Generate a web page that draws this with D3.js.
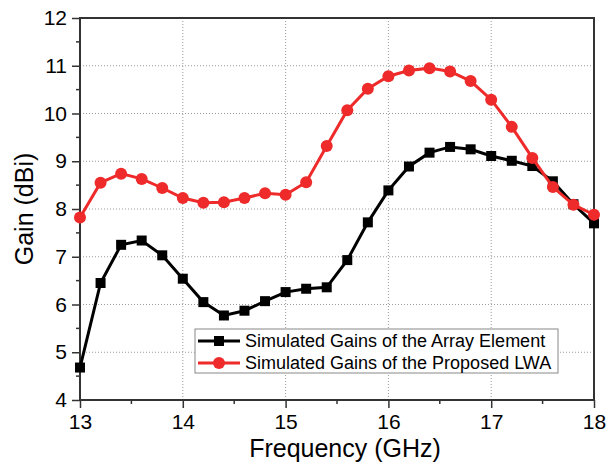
<!DOCTYPE html>
<html>
<head>
<meta charset="utf-8">
<script src="https://cdn.jsdelivr.net/npm/d3@7/dist/d3.min.js"></script>
<style>
  html, body { margin: 0; padding: 0; background: #fff; }
  svg { display: block; font-family: "Liberation Sans", Arial, sans-serif; }
</style>
</head>
<body>
<div id="chart"></div>
<script>
// frequencies in GHz, one point every 0.2 GHz
const freqs = [13.0, 13.2, 13.4, 13.6, 13.8, 14.0, 14.2, 14.4, 14.6, 14.8, 15.0, 15.2, 15.4,
               15.6, 15.8, 16.0, 16.2, 16.4, 16.6, 16.8, 17.0, 17.2, 17.4, 17.6, 17.8, 18.0];
const elementGain = [4.68, 6.45, 7.25, 7.34, 7.03, 6.54, 6.05, 5.77, 5.87, 6.07, 6.26, 6.33, 6.36,
                     6.93, 7.72, 8.39, 8.89, 9.18, 9.30, 9.25, 9.11, 9.01, 8.90, 8.58, 8.10, 7.70];
const lwaGain = [7.82, 8.55, 8.74, 8.63, 8.44, 8.23, 8.13, 8.14, 8.23, 8.33, 8.30, 8.56, 9.32,
                 10.07, 10.52, 10.78, 10.90, 10.95, 10.88, 10.68, 10.29, 9.72, 9.07, 8.46, 8.09, 7.88];
const xTicks = [13, 14, 15, 16, 17, 18];
const yTicks = [4, 5, 6, 7, 8, 9, 10, 11, 12];
const seriesNames = ["Simulated Gains of the Array Element", "Simulated Gains of the Proposed LWA"];

const W = 607, H = 466;
const m = {left: 80, right: 13, top: 18, bottom: 66};
const red = "#ee2a2a";

const svg = d3.select("#chart").append("svg")
  .attr("width", W)
  .attr("height", H);

const x = d3.scaleLinear().domain([13, 18]).range([m.left, W - m.right]);
const y = d3.scaleLinear().domain([4, 12]).range([H - m.bottom, m.top]);

// grid
const grid = svg.append("g").attr("stroke", "#9a9a9a").attr("stroke-width", 1)
  .attr("stroke-dasharray", "1,2");
grid.selectAll(".gx").data(xTicks.slice(1, -1)).enter().append("line")
  .attr("x1", d => x(d)).attr("x2", d => x(d))
  .attr("y1", y(12)).attr("y2", y(4));
grid.selectAll(".gy").data(yTicks.slice(1, -1)).enter().append("line")
  .attr("x1", x(13)).attr("x2", x(18))
  .attr("y1", d => y(d)).attr("y2", d => y(d));

// axes
const xAxis = d3.axisBottom(x).tickValues(xTicks).tickSize(8).tickPadding(6).tickFormat(d3.format("d"));
const yAxis = d3.axisLeft(y).tickValues(yTicks).tickSize(8).tickPadding(5).tickFormat(d3.format("d"));

const gx = svg.append("g").attr("transform", `translate(0,${y(4)})`).call(xAxis);
const gy = svg.append("g").attr("transform", `translate(${x(13)},0)`).call(yAxis);
[gx, gy].forEach(g => {
  g.select(".domain").remove();
  g.selectAll(".tick line").attr("stroke", "#333").attr("stroke-width", 1.5);
  g.selectAll(".tick text").attr("font-size", 21).attr("fill", "#000")
    .attr("font-family", "Liberation Sans, Arial, sans-serif");
});

// minor ticks
svg.append("g").selectAll("line").data(d3.range(13.5, 18, 1)).enter().append("line")
  .attr("x1", d => x(d)).attr("x2", d => x(d))
  .attr("y1", y(4)).attr("y2", y(4) + 4)
  .attr("stroke", "#333").attr("stroke-width", 1.5);
svg.append("g").selectAll("line").data(d3.range(4.5, 12, 1)).enter().append("line")
  .attr("x1", x(13) - 4).attr("x2", x(13))
  .attr("y1", d => y(d)).attr("y2", d => y(d))
  .attr("stroke", "#333").attr("stroke-width", 1.5);

// frame
svg.append("rect")
  .attr("x", x(13)).attr("y", y(12))
  .attr("width", x(18) - x(13)).attr("height", y(4) - y(12))
  .attr("fill", "none").attr("stroke", "#333").attr("stroke-width", 2);

// series
const line = d3.line().x(d => x(d[0])).y(d => y(d[1]));
const blackPts = freqs.map((f, i) => [f, elementGain[i]]);
const redPts = freqs.map((f, i) => [f, lwaGain[i]]);

svg.append("path").datum(blackPts).attr("d", line)
  .attr("fill", "none").attr("stroke", "#000").attr("stroke-width", 3);
svg.append("g").selectAll("rect").data(blackPts).enter().append("rect")
  .attr("x", d => x(d[0]) - 5).attr("y", d => y(d[1]) - 5)
  .attr("width", 10).attr("height", 10).attr("fill", "#000");

svg.append("path").datum(redPts).attr("d", line)
  .attr("fill", "none").attr("stroke", red).attr("stroke-width", 3);
svg.append("g").selectAll("circle").data(redPts).enter().append("circle")
  .attr("cx", d => x(d[0])).attr("cy", d => y(d[1]))
  .attr("r", 6).attr("fill", red);

// legend
const lg = svg.append("g").attr("transform", "translate(195,329)");
lg.append("rect").attr("width", 363).attr("height", 44)
  .attr("fill", "#fff").attr("stroke", "#888").attr("stroke-width", 1);
const colors = ["#000", red];
seriesNames.forEach((name, i) => {
  const cy = 12 + i * 22;
  lg.append("line").attr("x1", 3).attr("x2", 45).attr("y1", cy).attr("y2", cy)
    .attr("stroke", colors[i]).attr("stroke-width", 3);
  if (i === 0) {
    lg.append("rect").attr("x", 19).attr("y", cy - 5).attr("width", 10).attr("height", 10).attr("fill", "#000");
  } else {
    lg.append("circle").attr("cx", 24).attr("cy", cy).attr("r", 6).attr("fill", red);
  }
  lg.append("text").attr("x", 50).attr("y", cy + 6).attr("font-size", 18).attr("fill", "#000").text(name);
});

// axis titles
svg.append("text").attr("x", 345).attr("y", 457).attr("text-anchor", "middle")
  .attr("font-size", 25).attr("fill", "#000").text("Frequency (GHz)");
svg.append("text").attr("transform", `translate(33,${(y(4) + y(12)) / 2}) rotate(-90)`)
  .attr("text-anchor", "middle").attr("font-size", 25).attr("fill", "#000").text("Gain (dBi)");
</script>
</body>
</html>
